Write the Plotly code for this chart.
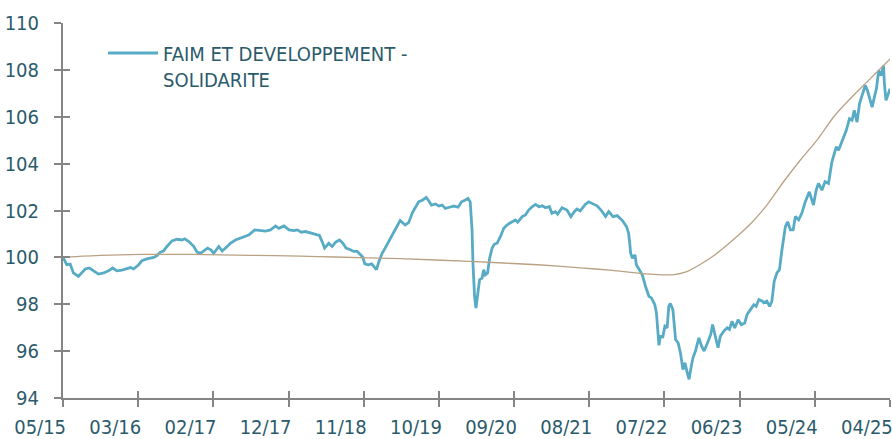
import plotly.graph_objects as go
import pandas as pd

# ---- data ----
fund_name = "FAIM ET DEVELOPPEMENT -<br>SOLIDARITE"

fund_dates = [
    "2015-05-15", "2015-05-24", "2015-05-31", "2015-06-15", "2015-06-29", "2015-07-21", "2015-08-05",
    "2015-08-20", "2015-09-07", "2015-09-26", "2015-10-17", "2015-11-09", "2015-11-30", "2015-12-18",
    "2016-01-06", "2016-01-28", "2016-02-19", "2016-03-05", "2016-03-19", "2016-04-10", "2016-04-24",
    "2016-05-16", "2016-06-15", "2016-06-29", "2016-07-14", "2016-07-28", "2016-08-12", "2016-09-03",
    "2016-09-25", "2016-10-17", "2016-10-29", "2016-11-16", "2016-12-08", "2016-12-22", "2017-01-06",
    "2017-01-21", "2017-02-06", "2017-02-20", "2017-03-05", "2017-03-27", "2017-04-11", "2017-05-03",
    "2017-05-17", "2017-06-08", "2017-06-30", "2017-07-22", "2017-08-05", "2017-09-01", "2017-09-26",
    "2017-10-18", "2017-11-09", "2017-12-01", "2017-12-15", "2018-01-07", "2018-01-29", "2018-02-20",
    "2018-03-06", "2018-03-24", "2018-04-11", "2018-05-03", "2018-05-24", "2018-06-11", "2018-06-23",
    "2018-07-04", "2018-07-22", "2018-08-06", "2018-08-20", "2018-09-07", "2018-09-22", "2018-10-06",
    "2018-10-25", "2018-11-08", "2018-11-24", "2018-12-08", "2018-12-18", "2018-12-27", "2019-01-11",
    "2019-01-26", "2019-02-05", "2019-02-16", "2019-02-27", "2019-03-13", "2019-03-26", "2019-04-10",
    "2019-04-28", "2019-05-12", "2019-05-31", "2019-06-22", "2019-07-07", "2019-07-24", "2019-08-05",
    "2019-08-20", "2019-09-07", "2019-09-22", "2019-10-03", "2019-10-15", "2019-11-02", "2019-11-16",
    "2019-12-01", "2019-12-15", "2020-01-02", "2020-01-21", "2020-02-09", "2020-02-24", "2020-03-12",
    "2020-03-23", "2020-04-02", "2020-04-10", "2020-04-14", "2020-04-21", "2020-04-27", "2020-05-04",
    "2020-05-13", "2020-05-24", "2020-05-31", "2020-06-07", "2020-06-17", "2020-06-26", "2020-07-07",
    "2020-07-17", "2020-07-29", "2020-08-12", "2020-08-27", "2020-09-14", "2020-10-03", "2020-10-17",
    "2020-10-27", "2020-11-16", "2020-11-30", "2020-12-14", "2020-12-29", "2021-01-13", "2021-01-28",
    "2021-02-12", "2021-02-26", "2021-03-15", "2021-03-26", "2021-04-10", "2021-04-20", "2021-05-09",
    "2021-05-31", "2021-06-17", "2021-07-02", "2021-07-14", "2021-07-28", "2021-08-19", "2021-09-03",
    "2021-09-18", "2021-10-10", "2021-10-27", "2021-11-16", "2021-11-30", "2021-12-19", "2022-01-06",
    "2022-01-29", "2022-02-16", "2022-02-25", "2022-03-02", "2022-03-06", "2022-03-14", "2022-03-25",
    "2022-03-31", "2022-04-12", "2022-04-26", "2022-05-10", "2022-05-25", "2022-06-05", "2022-06-20",
    "2022-06-27", "2022-07-04", "2022-07-08", "2022-07-14", "2022-07-25", "2022-08-03", "2022-08-13",
    "2022-08-20", "2022-08-27", "2022-09-07", "2022-09-19", "2022-09-30", "2022-10-10", "2022-10-21",
    "2022-10-30", "2022-11-09", "2022-11-17", "2022-11-24", "2022-12-04", "2022-12-15", "2022-12-30",
    "2023-01-11", "2023-01-22", "2023-02-06", "2023-02-20", "2023-02-28", "2023-03-11", "2023-03-24",
    "2023-04-03", "2023-04-18", "2023-05-03", "2023-05-13", "2023-05-24", "2023-06-05", "2023-06-20",
    "2023-07-04", "2023-07-19", "2023-07-29", "2023-08-13", "2023-08-28", "2023-09-07", "2023-09-19",
    "2023-10-04", "2023-10-10", "2023-10-24", "2023-11-05", "2023-11-15", "2023-11-25", "2023-12-07",
    "2023-12-18", "2023-12-29", "2024-01-13", "2024-01-23", "2024-02-04", "2024-02-16", "2024-02-26",
    "2024-03-11", "2024-03-25", "2024-04-09", "2024-04-27", "2024-05-15", "2024-05-27", "2024-06-06",
    "2024-06-21", "2024-07-05", "2024-07-20", "2024-08-04", "2024-08-23", "2024-09-02", "2024-09-17",
    "2024-10-06", "2024-10-20", "2024-10-31", "2024-11-10", "2024-11-22", "2024-12-03", "2024-12-18",
    "2024-12-28", "2025-01-07", "2025-01-16", "2025-01-27", "2025-02-06", "2025-02-15", "2025-02-25",
    "2025-03-07", "2025-03-18", "2025-03-22", "2025-03-29", "2025-04-08", "2025-04-16",
]

fund_values = [
    100.00, 99.83, 99.68, 99.71, 99.33, 99.18, 99.33,
    99.50, 99.54, 99.42, 99.28, 99.33, 99.42, 99.54,
    99.42, 99.45, 99.50, 99.56, 99.50, 99.68, 99.85,
    99.93, 99.99, 100.07, 100.22, 100.27, 100.46, 100.70,
    100.77, 100.74, 100.79, 100.67, 100.46, 100.22, 100.17,
    100.27, 100.39, 100.32, 100.17, 100.46, 100.27, 100.46,
    100.60, 100.74, 100.81, 100.88, 100.95, 101.17, 101.14,
    101.12, 101.17, 101.34, 101.24, 101.34, 101.17, 101.14,
    101.17, 101.07, 101.10, 101.03, 100.98, 100.93, 100.67,
    100.39, 100.60, 100.46, 100.64, 100.74, 100.60, 100.39,
    100.32, 100.25, 100.25, 100.11, 100.01, 99.72, 99.68,
    99.72, 99.61, 99.47, 99.82, 100.17, 100.39, 100.67,
    100.96, 101.24, 101.57, 101.38, 101.48, 101.91, 102.09,
    102.37, 102.45, 102.56, 102.42, 102.23, 102.28, 102.19,
    102.23, 102.09, 102.14, 102.19, 102.14, 102.37, 102.45,
    102.52, 102.37, 101.17, 99.75, 98.33, 97.83, 98.40,
    99.04, 99.11, 99.47, 99.25, 99.33, 99.96, 100.39,
    100.56, 100.60, 100.88, 101.24, 101.41, 101.52, 101.59,
    101.50, 101.74, 101.81, 102.02, 102.16, 102.26, 102.16,
    102.20, 102.12, 102.16, 101.88, 101.95, 101.84, 102.12,
    102.02, 101.74, 101.95, 102.06, 101.98, 102.26, 102.37,
    102.30, 102.20, 102.02, 101.74, 101.95, 101.74, 101.78,
    101.57, 101.31, 101.03, 100.60, 100.17, 99.96, 100.10,
    99.68, 99.47, 99.25, 98.76, 98.33, 98.26, 97.97,
    97.62, 96.77, 96.23, 96.62, 96.60, 97.05, 96.98,
    97.90, 98.02, 97.76, 96.48, 96.34, 95.92, 95.20,
    95.49, 95.06, 94.78, 95.20, 95.70, 95.99, 96.55,
    96.20, 95.99, 96.34, 96.70, 97.12, 96.62, 96.13,
    96.62, 96.84, 96.98, 96.91, 97.26, 96.98, 97.33,
    97.12, 97.19, 97.55, 97.76, 97.97, 97.90, 98.19,
    98.12, 98.05, 98.12, 97.90, 98.12, 98.97, 99.33,
    99.47, 100.32, 101.31, 101.52, 101.17, 101.17, 101.74,
    101.60, 101.88, 102.37, 102.80, 102.23, 102.87, 103.16,
    102.87, 103.23, 103.16, 104.08, 104.72, 104.58, 104.93,
    105.43, 105.93, 105.86, 106.28, 105.78, 106.57, 106.99,
    107.35, 107.13, 106.85, 106.42, 106.85, 107.21, 107.99,
    107.77, 108.20, 107.42, 106.71, 106.99, 107.21,
]

trend_dates = [
    "2015-05-15", "2015-10-26", "2016-04-18", "2016-11-25", "2017-08-13", "2018-03-19",
    "2018-08-20", "2019-05-31", "2020-04-02", "2021-01-22", "2021-07-28", "2021-12-16",
    "2022-04-26", "2022-09-04", "2022-11-01", "2022-12-30", "2023-02-28", "2023-04-25",
    "2023-06-23", "2023-08-20", "2023-10-24", "2024-01-05", "2024-03-18", "2024-05-30",
    "2024-08-11", "2024-10-23", "2025-01-04", "2025-03-18", "2025-04-16",
]
trend_values = [
    100.00, 100.08, 100.12, 100.12, 100.08, 100.05,
    100.01, 99.94, 99.82, 99.68, 99.55, 99.44,
    99.30, 99.25, 99.36, 99.66, 100.03, 100.46,
    100.96, 101.50, 102.23, 103.23, 104.15, 105.00,
    106.00, 106.78, 107.49, 108.20, 108.48,
]

tick_labels = ["05/15", "03/16", "02/17", "12/17", "11/18", "10/19",
               "09/20", "08/21", "07/22", "06/23", "05/24", "04/25"]
x_start, x_end = "2015-05-15", "2025-04-15"
y_min, y_max, y_step = 94, 110, 2

# ---- styling ----
FONT = "DejaVu Sans Condensed, Liberation Sans Narrow, sans-serif"
TEXT = "#2B5B6B"
AXIS = "#858585"
BLUE = "#58ABC5"
TAN = "#B9A184"

tickvals = list(pd.date_range(x_start, x_end, periods=len(tick_labels)))
yticks = list(range(y_min, y_max + 1, y_step))
x_range = [pd.Timestamp(x_start) - pd.Timedelta(hours=12),
           pd.Timestamp(x_end) + pd.Timedelta(hours=12)]
y_range = [y_min - 0.02, y_max + 0.02]

fig = go.Figure()
fig.add_trace(go.Scatter(
    x=pd.to_datetime(trend_dates), y=trend_values, mode="lines",
    line=dict(color=TAN, width=1.3, shape="spline", smoothing=0.6),
    showlegend=False, hoverinfo="skip", xaxis="x2", yaxis="y2",
))
fig.add_trace(go.Scatter(
    x=pd.to_datetime(fund_dates), y=fund_values, mode="lines",
    line=dict(color=BLUE, width=2.8),
    name=fund_name, showlegend=True,
))

common_x = dict(range=x_range, tickvals=tickvals, showgrid=False, automargin=False,
                zeroline=False, tickcolor=AXIS, tickwidth=2, ticklen=7)
common_y = dict(range=y_range, tickvals=yticks, showgrid=False, automargin=False,
                zeroline=False, tickcolor=AXIS, tickwidth=2, ticklen=7)

fig.update_layout(
    width=892, height=439,
    margin=dict(l=63, r=2, t=23, b=41),
    paper_bgcolor="white", plot_bgcolor="white",
    font=dict(family=FONT, size=20, color=TEXT),
    xaxis=dict(**common_x, ticktext=tick_labels, ticks="outside",
               showline=True, linecolor=AXIS, linewidth=2,
               ticklabelshift=-23, ticklabelstandoff=3, ticklabeloverflow="allow",
               tickfont=dict(family=FONT, size=20, color=TEXT)),
    yaxis=dict(**common_y, ticktext=[str(v) for v in yticks], ticks="outside",
               showline=True, linecolor=AXIS, linewidth=2,
               ticklabelstandoff=11, ticklabeloverflow="allow",
               tickfont=dict(family=FONT, size=20, color=TEXT)),
    xaxis2=dict(**common_x, overlaying="x", anchor="y2", side="bottom",
                ticks="inside", showticklabels=False, showline=False),
    yaxis2=dict(**common_y, overlaying="y", anchor="x2", side="left",
                ticks="inside", showticklabels=False, showline=False),
    legend=dict(x=0.0485, y=0.972, xanchor="left", yanchor="top",
                bgcolor="rgba(0,0,0,0)", valign="top", itemwidth=50,
                font=dict(family=FONT, size=20, color=TEXT)),
    showlegend=True,
)

fig.write_html(
    "out.html",
    config={"displayModeBar": False},
    post_script="document.body.style.margin='0';document.body.style.overflow='hidden';",
)
